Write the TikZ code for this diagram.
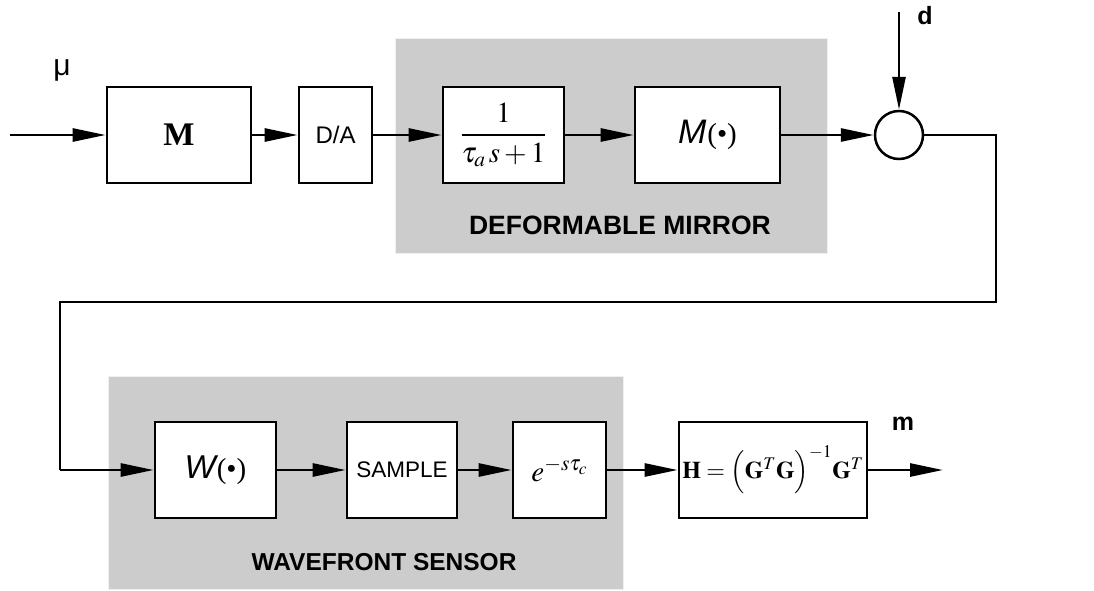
\documentclass[tikz,border=0pt]{standalone}
\usepackage{mathptmx}
\usepackage[no-math]{fontspec}
\setmainfont{Liberation Serif}
\setsansfont{Liberation Sans}
\usetikzlibrary{arrows.meta}
\tikzset{
  blk/.style={draw=black, line width=2.7pt, fill=white, minimum height=96pt, inner sep=0pt},
  arr/.style={line width=2.7pt, -{Triangle[length=33pt,width=13pt]}},
  wire/.style={line width=2.7pt},
  grp/.style={fill=black!20, draw=black!6, line width=1pt},
  grplab/.style={font=\fontsize{#1}{#1}\selectfont\sffamily\bfseries},
}
\begin{document}
\begin{tikzpicture}[x=1pt,y=-1pt]
\useasboundingbox (0,0) rectangle (1094,590);
% group backgrounds
\draw[grp] (395,38) rectangle (827,253);
\draw[grp] (108,376) rectangle (623,589);
\node[grplab=26.5] (dmlab) at (620,225) {DEFORMABLE MIRROR};
\node[grplab=24.5] (wfslab) at (384,562) {WAVEFRONT SENSOR};
% blocks top row
\node[blk, minimum width=144pt] (M) at (179,135) {\fontsize{33}{33}\selectfont\bfseries M};
\node[blk, minimum width=73pt] (DA) at (335.5,135) {\fontsize{24}{24}\selectfont\sffamily D/A};
\node[blk, minimum width=121pt] (F) at (503.5,135) {\fontsize{29}{32}\selectfont$\displaystyle\frac{1}{\tau_a\,s+1}$};
\node[blk, minimum width=145pt] (Md) at (707.5,135) {\fontsize{34}{34}\selectfont\sffamily\itshape M\hspace{1pt}{\fontsize{29}{29}\selectfont\rmfamily\upshape(•)}};
\node[draw=black, line width=2.5pt, circle, minimum size=48pt, inner sep=0pt, fill=white] (S) at (899,135) {};
% blocks bottom row
\node[blk, minimum width=121pt] (W) at (215.5,470) {\fontsize{33}{33}\selectfont\sffamily\itshape W\hspace{1pt}{\fontsize{29}{29}\selectfont\rmfamily\upshape(•)}};
\node[blk, minimum width=110pt] (SA) at (402,470) {\fontsize{22.5}{22.5}\selectfont\sffamily SAMPLE};
\node[blk, minimum width=93pt] (E) at (559.5,470) {\fontsize{29}{29}\selectfont$e^{-s\tau_c}$};
\node[blk, minimum width=188pt] (H) at (773,470) {\fontsize{24}{24}\selectfont$\mathbf{H}=\Big(\mathbf{G}^T\mathbf{G}\Big)^{-1}\mathbf{G}^T$};
% labels
\node[font=\fontsize{30}{30}\selectfont\sffamily] (mu) at (62,70) {μ};
\node[font=\fontsize{25}{25}\selectfont\sffamily\bfseries] (dl) at (925,16) {d};
\node[font=\fontsize{25}{25}\selectfont\sffamily\bfseries] (ml) at (903,424) {m};
% coordinates
\coordinate (in) at (10,135);
\coordinate (dtop) at (899,12);
\coordinate (c1) at (996,135);
\coordinate (c2) at (996,302);
\coordinate (c3) at (60,302);
\coordinate (c4) at (60,470);
\coordinate (out) at (943,470);
% connectors
\draw[arr] (in) -- (M);
\draw[arr] (M) -- (DA);
\draw[arr] (DA) -- (F);
\draw[arr] (F) -- (Md);
\draw[arr] (Md) -- (S);
\draw[arr] (dtop) -- (S);
\draw[wire] (S.east) -- (c1) -- (c2) -- (c3) -- (c4);
\draw[arr] (c4) -- (W);
\draw[arr] (W) -- (SA);
\draw[arr] (SA) -- (E);
\draw[arr] (E) -- (H);
\draw[arr] (H) -- (out);
\end{tikzpicture}
\end{document}
